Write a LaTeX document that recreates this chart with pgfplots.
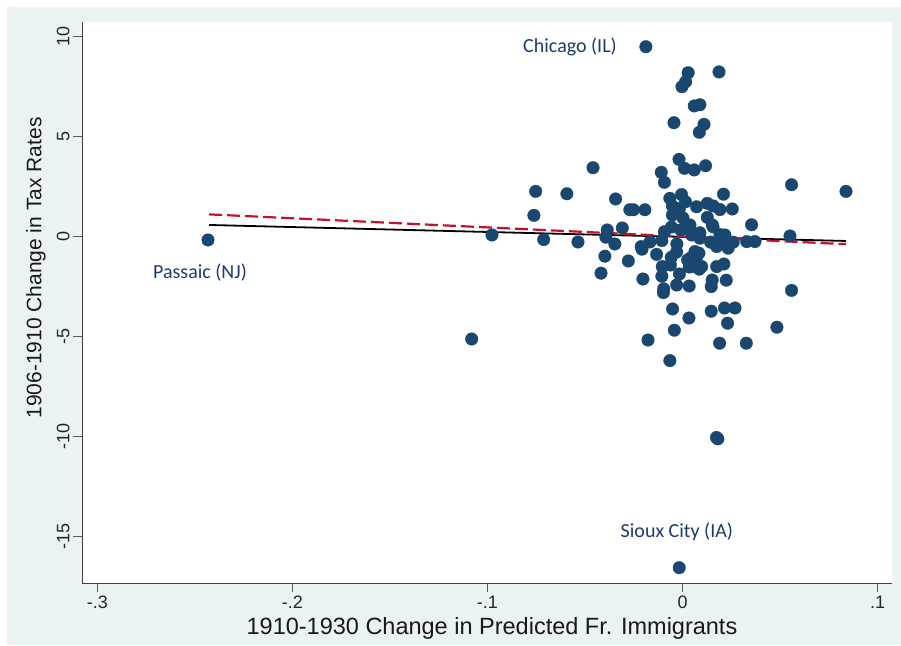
\documentclass[border=0pt]{standalone}
\usepackage{fontspec}
\setmainfont{Liberation Sans}
\newfontfamily\calib{Carlito}
\usepackage{pgfplots}
\pgfplotsset{compat=1.18}
\definecolor{stnavy}{HTML}{1A476F}
\definecolor{lblue}{HTML}{1F3B6E}
\definecolor{stbg}{HTML}{EAF2F3}
\definecolor{fitred}{HTML}{C8102E}
\begin{document}
\begin{tikzpicture}[x=1pt,y=1pt]
\path[use as bounding box] (0,0) rectangle (901,645);
\fill[white] (0,0) rectangle (901,645);
\fill[stbg] (7,0) rectangle (901,638);
\begin{axis}[
  at={(82pt,61.7pt)}, anchor=south west,
  scale only axis, width=810pt, height=561pt,
  xmin=-0.3079, xmax=0.1074, ymin=-17.32, ymax=10.72,
  axis background/.style={fill=white},
  axis lines=left,
  axis line style={-, draw=black!75, line width=0.9pt},
  tick align=outside,
  major tick length=9pt,
  tick style={draw=black!65, line width=0.9pt},
  xtick={-0.3,-0.2,-0.1,0,0.1},
  xticklabels={-.3,-.2,-.1,0,.1},
  ytick={-15,-10,-5,0,5,10},
  yticklabels={-15,-10,-5,0,5,10},
  xticklabel style={font=\fontsize{18}{20}\selectfont, text=black!85},
  yticklabel style={font=\fontsize{18}{20}\selectfont, text=black!85, rotate=90, anchor=south},
  clip=false,
]
\addplot[only marks, mark=*, mark size=6.3pt, mark options={fill=stnavy, draw=stnavy, line width=0.3pt}] table {
x y
-0.2433 -0.16
-0.0977 0.09
-0.1081 -5.11
-0.0188 9.50
-0.0017 -16.54
0.0174 -10.03
0.0181 -10.10
0.0838 2.27
0.0559 2.60
0.0559 -2.68
0.0484 -4.52
0.0327 -5.32
0.0190 -5.32
-0.0065 -6.19
-0.0177 -5.16
-0.0042 -4.67
0.0033 -4.06
0.0231 -4.32
0.0147 -3.72
0.0215 -3.56
0.0269 -3.56
-0.0051 -3.61
-0.0098 -2.79
-0.0097 -2.60
-0.0712 -0.14
-0.0536 -0.26
-0.0386 0.34
-0.0393 -0.02
-0.0347 -0.36
-0.0309 0.44
-0.0398 -0.97
-0.0418 -1.82
-0.0278 -1.21
-0.0212 -0.49
-0.0208 -0.62
-0.0167 -0.26
-0.0203 -2.11
-0.0133 -0.88
-0.0106 -0.19
-0.0104 -1.49
-0.0106 -1.97
-0.0030 -2.41
0.0034 -2.46
-0.0016 -1.86
-0.0062 -1.41
-0.0058 -1.03
-0.0030 -0.76
-0.0029 -0.36
-0.0093 0.25
-0.0057 0.49
-0.0009 0.34
0.0038 0.59
0.0047 0.09
0.0089 0.20
0.0089 -0.07
0.0026 -1.16
0.0041 -1.06
0.0034 -1.51
0.0055 -1.48
0.0072 -1.00
0.0084 -0.82
0.0064 -0.74
0.0098 -1.49
0.0086 -1.62
0.0144 -0.27
0.0175 -0.49
0.0200 0.05
0.0226 -0.27
0.0234 -0.57
0.0260 -0.27
0.0175 -1.49
0.0212 -1.36
0.0152 -2.16
0.0147 -2.49
0.0224 -2.17
0.0354 0.60
0.0329 -0.24
0.0371 -0.24
0.0551 0.04
0.0156 0.50
0.0029 8.20
0.0016 7.75
-0.0003 7.50
0.0187 8.24
0.0060 6.54
0.0089 6.60
-0.0044 5.70
0.0110 5.62
0.0086 5.22
-0.0459 3.45
-0.0018 3.87
0.0010 3.42
0.0060 3.34
0.0118 3.55
-0.0109 3.22
-0.0093 2.72
-0.0753 2.27
-0.0593 2.15
-0.0762 1.07
-0.0343 1.89
-0.0270 1.35
-0.0252 1.35
-0.0193 1.35
-0.0065 1.92
-0.0005 2.11
-0.0052 1.54
0.0015 1.75
-0.0016 1.41
-0.0052 1.09
0.0002 0.94
0.0072 1.50
0.0127 1.67
0.0157 1.54
0.0192 1.36
0.0255 1.39
0.0210 2.13
0.0127 0.97
0.0153 0.59
0.0192 0.11
0.0217 0.09
};
\addplot[black, line width=1.8pt] coordinates {(-0.2427,0.59) (0.0838,-0.21)};
\addplot[fitred, line width=2.2pt, dash pattern=on 13pt off 5pt] coordinates {(-0.2427,1.12) (0.0838,-0.37)};
\node[font=\calib\fontsize{20}{22}\selectfont, text=lblue] at (axis cs:-0.0577,9.49) {Chicago (IL)};
\node[font=\calib\fontsize{20}{22}\selectfont, text=lblue] at (axis cs:-0.2474,-1.78) {Passaic (NJ)};
\node[font=\calib\fontsize{20}{22}\selectfont, text=lblue] at (axis cs:-0.0029,-14.73) {Sioux City (IA)};
\end{axis}
\node[font=\fontsize{23.5}{26}\selectfont, text=black!90] at (492,17) {1910-1930 Change in Predicted Fr. Immigrants};
\node[font=\fontsize{21}{24}\selectfont, text=black!90, rotate=90] at (36,377) {1906-1910 Change in Tax Rates};
\end{tikzpicture}
\end{document}
